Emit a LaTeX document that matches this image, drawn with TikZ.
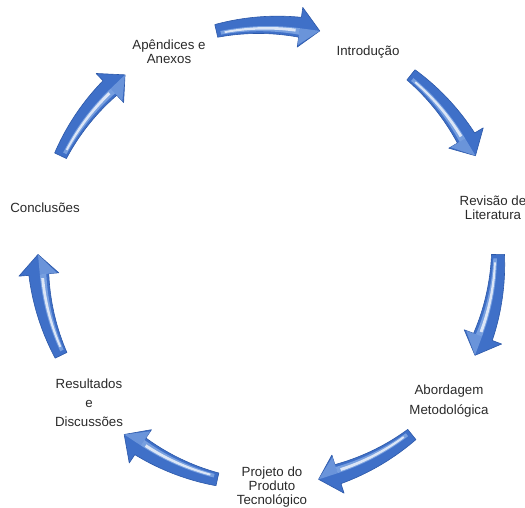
\documentclass[tikz,border=0pt]{standalone}
\usepackage{fontspec}
\setmainfont{Liberation Sans}
\definecolor{labelgray}{HTML}{2A2A2A}
\definecolor{arrowblue}{HTML}{3F70C8}
\definecolor{arrowedge}{HTML}{2C58A8}
\definecolor{arrowlight}{HTML}{8FB3EA}

% hub of the cycle and radius of the ring (pixel-like units, y downwards)
\def\hubx{268}
\def\huby{255}
\def\ringr{230}

% point on the ring: angle #1, radial offset #2
\newcommand\ringpt[2]{({\hubx+(\ringr+#2)*cos(#1)},{\huby+(\ringr+#2)*sin(#1)})}

% one curved, tapering arrow centred on angle #1 (clockwise)
\newcommand\cyclearrow[1]{%
  \pgfmathsetmacro\ta{#1-13}%
  \pgfmathsetmacro\tb{#1+8}%
  \pgfmathsetmacro\tc{#1+13}%
  % body and head
  \filldraw[arrowbody]
    plot[domain=\ta:\tb,samples=30]
      ({\hubx+(\ringr+6.5+3.5*(\x-\ta)/21)*cos(\x)},{\huby+(\ringr+6.5+3.5*(\x-\ta)/21)*sin(\x)})
    -- \ringpt{\tb}{20}
    -- \ringpt{\tc}{0}
    -- \ringpt{\tb}{-20}
    -- plot[domain=\tb:\ta,samples=30]
      ({\hubx+(\ringr-6.5-3.5*(\x-\ta)/21)*cos(\x)},{\huby+(\ringr-6.5-3.5*(\x-\ta)/21)*sin(\x)})
    -- cycle;
  % soft highlight band
  \fill[arrowlight,opacity=0.7]
    plot[domain=\ta+1:\tb,samples=30]
      ({\hubx+(\ringr-1)*cos(\x)},{\huby+(\ringr-1)*sin(\x)})
    -- plot[domain=\tb:\ta+1,samples=30]
      ({\hubx+(\ringr-4.5-3*(\x-\ta)/21)*cos(\x)},{\huby+(\ringr-4.5-3*(\x-\ta)/21)*sin(\x)})
    -- cycle;
  % bright streak
  \fill[white,opacity=0.75]
    plot[domain=\ta+2:\tb-1,samples=30]
      ({\hubx+(\ringr-2)*cos(\x)},{\huby+(\ringr-2)*sin(\x)})
    -- plot[domain=\tb-1:\ta+2,samples=30]
      ({\hubx+(\ringr-3.8-1.2*(\x-\ta)/21)*cos(\x)},{\huby+(\ringr-3.8-1.2*(\x-\ta)/21)*sin(\x)})
    -- cycle;
  % lit facet of the head
  \fill[arrowlight,opacity=0.55]
    \ringpt{\tb}{-1} -- \ringpt{\tb}{-18} -- \ringpt{\tc}{0} -- cycle;
}

\begin{document}
\begin{tikzpicture}[x=1pt,y=-1pt,
  lbl/.style={font=\fontsize{13.3}{14}\selectfont, text=labelgray,
              align=center, inner sep=0pt},
  arrowbody/.style={fill=arrowblue, draw=arrowedge, line width=0.6pt,
                    line join=round}]
\useasboundingbox (0,0) rectangle (525,507);
\coordinate (hub) at (\hubx,\huby);

% stages of the cycle
\node[lbl] (intro)   at (368,52)  {Introdução};
\node[lbl] (revisao) at (493,208) {Revisão de\\Literatura};
\node[lbl] (abord)   at (449,401) {Abordagem\\[6pt]Metodológica};
\node[lbl] (projeto) at (272,487) {Projeto do\\Produto\\Tecnológico};
\node[lbl] (result)  at (89,403)  {Resultados\\[5pt]e\\[5pt]Discussões};
\node[lbl] (concl)   at (45,208)  {Conclusões};
\node[lbl] (apend)   at (169,52)  {Apêndices e\\Anexos};

% arrows between consecutive stages
\foreach \ang in {-90,-38.57,12.86,64.29,115.71,167.14,218.57}{
  \cyclearrow{\ang}
}
\end{tikzpicture}
\end{document}
